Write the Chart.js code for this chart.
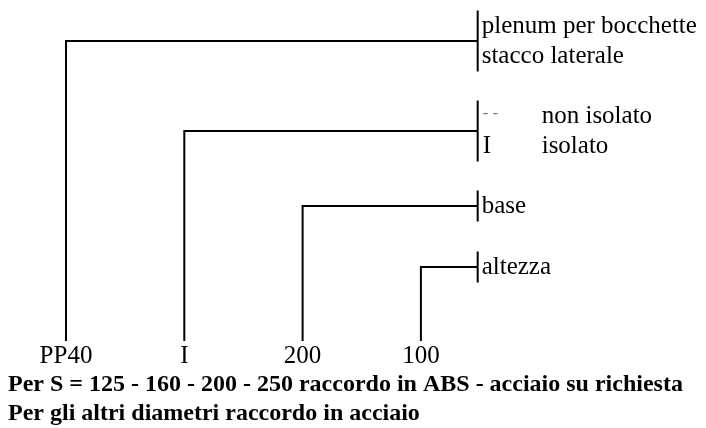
<!DOCTYPE html>
<html>
<head>
<meta charset="utf-8">
<script src="https://cdn.jsdelivr.net/npm/chart.js@4"></script>
<style>
  html, body { margin: 0; padding: 0; background: #fff; }
  #wrap { width: 706px; height: 428px; position: relative; }
</style>
</head>
<body>
<div id="wrap"><canvas id="myChart"></canvas></div>
<script>
// parts of the product code, left to right
const codeParts = ['PP40', 'I', '200', '100'];
// height of each leader's horizontal run (diagram units, 0 = bottom)
const partLevels = [387, 297, 222, 161];
// option codes shown next to the bracket (empty = none)
const optionCodes = [[], ['- -', 'I'], [], []];
// description lines for each part
const descriptions = [
  ['plenum per bocchette', 'stacco laterale'],
  ['non isolato', 'isolato'],
  ['base'],
  ['altezza']
];
const footNotes = [
  'Per S = 125 - 160 - 200 - 250 raccordo in ABS - acciaio su richiesta',
  'Per gli altri diametri raccordo in acciaio'
];

const baseLevel = 87;     // where the leader lines stop above the code
const bracketX = 3.48;    // x position of the brackets (in part index units)
const lineGap = 30;       // text line height in diagram units

const serif = '"Liberation Serif", "DejaVu Serif", serif';

var datasets = [];
for (var i = 0; i < codeParts.length; i++) {
  // leader: up from the code, then across to the bracket
  datasets.push({
    data: [
      {x: i, y: baseLevel},
      {x: i, y: partLevels[i]},
      {x: bracketX, y: partLevels[i]}
    ],
    showLine: true,
    borderColor: '#000',
    borderWidth: 2,
    pointRadius: 0,
    borderJoinStyle: 'miter'
  });
  // bracket spanning the description lines
  var half = descriptions[i].length * lineGap / 2 + 0.5;
  datasets.push({
    data: [
      {x: bracketX, y: partLevels[i] + half},
      {x: bracketX, y: partLevels[i] - half}
    ],
    showLine: true,
    borderColor: '#000',
    borderWidth: 2,
    pointRadius: 0
  });
}

const labelPlugin = {
  id: 'labels',
  afterDraw: function(chart) {
    const ctx = chart.ctx;
    const xs = chart.scales.x, ys = chart.scales.y;
    ctx.save();
    ctx.fillStyle = '#000';
    ctx.textBaseline = 'middle';

    // code parts under the leaders
    ctx.font = '25px ' + serif;
    ctx.textAlign = 'center';
    for (var i = 0; i < codeParts.length; i++) {
      ctx.fillText(codeParts[i], xs.getPixelForValue(i), ys.getPixelForValue(baseLevel) + 15);
    }

    // descriptions beside the brackets
    ctx.textAlign = 'left';
    var bx = xs.getPixelForValue(bracketX);
    for (var i = 0; i < descriptions.length; i++) {
      var n = descriptions[i].length;
      for (var k = 0; k < n; k++) {
        var y = ys.getPixelForValue(partLevels[i] + (n - 1) * lineGap / 2 - k * lineGap);
        var tx = bx + 4;
        if (optionCodes[i].length) {
          var oc = optionCodes[i][k];
          if (oc === '- -') {
            ctx.fillStyle = '#777';
            ctx.font = 'italic 17px ' + serif;
            ctx.fillText(oc, bx + 5, y - 2);
          } else {
            ctx.fillStyle = '#000';
            ctx.font = '25px ' + serif;
            ctx.fillText(oc, bx + 5, y);
          }
          tx = bx + 64;
        }
        ctx.fillStyle = '#000';
        ctx.font = '25px ' + serif;
        ctx.fillText(descriptions[i][k], tx, y);
      }
    }

    // notes
    ctx.font = 'bold 24px ' + serif;
    for (var j = 0; j < footNotes.length; j++) {
      ctx.fillText(footNotes[j], 8, 385 + j * 29);
    }
    ctx.restore();
  }
};

new Chart(document.getElementById('myChart'), {
  type: 'scatter',
  data: {datasets: datasets},
  options: {
    responsive: true,
    maintainAspectRatio: false,
    animation: false,
    layout: {padding: 0},
    plugins: {legend: {display: false}, tooltip: {enabled: false}},
    scales: {
      x: {type: 'linear', display: false, min: -0.558, max: 5.41},
      y: {type: 'linear', display: false, min: 0, max: 428}
    }
  },
  plugins: [labelPlugin]
});
</script>
</body>
</html>
